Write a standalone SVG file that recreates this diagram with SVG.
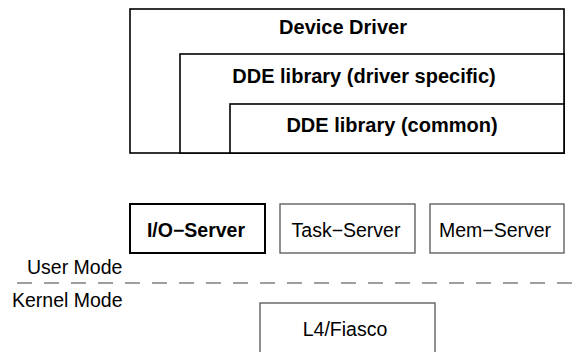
<svg xmlns="http://www.w3.org/2000/svg" width="580" height="352" viewBox="0 0 580 352">
  <style>
    .layer { fill: #ffffff; stroke: #000000; stroke-width: 1.6; }
    .srv { fill: #ffffff; stroke: #555555; stroke-width: 1.3; }
    .srv-main { fill: #ffffff; stroke: #000000; stroke-width: 2; }
    .bold { font-family: "Liberation Sans", Arial, sans-serif; font-weight: bold; font-size: 20px; fill: #000000; text-anchor: middle; }
    .txt { font-family: "Liberation Sans", Arial, sans-serif; font-size: 19.5px; fill: #000000; text-anchor: middle; }
    .lbl { font-family: "Liberation Sans", Arial, sans-serif; font-size: 19.5px; fill: #000000; }
    .sep { stroke: #808080; stroke-width: 1.5; stroke-dasharray: 15 12; fill: none; }
  </style>

  <!-- nested driver layers -->
  <g id="device-driver">
    <rect class="layer" x="130" y="9" width="434" height="144"/>
    <text class="bold" x="343" y="34">Device Driver</text>
  </g>
  <g id="dde-driver-specific">
    <rect class="layer" x="180" y="54" width="384" height="99"/>
    <text class="bold" x="364" y="83">DDE library (driver specific)</text>
  </g>
  <g id="dde-common">
    <rect class="layer" x="230" y="104" width="334" height="49"/>
    <text class="bold" x="392" y="132">DDE library (common)</text>
  </g>

  <!-- user-level servers -->
  <g id="io-server">
    <rect class="srv-main" x="130" y="204" width="135" height="49"/>
    <text class="bold" x="196" y="237" style="font-size:19.5px">I/O−Server</text>
  </g>
  <g id="task-server">
    <rect class="srv" x="280" y="204" width="135" height="49"/>
    <text class="txt" x="346" y="237">Task−Server</text>
  </g>
  <g id="mem-server">
    <rect class="srv" x="430" y="204" width="134" height="49"/>
    <text class="txt" x="495" y="237">Mem−Server</text>
  </g>

  <!-- user / kernel boundary -->
  <g id="connectors">
    <line class="sep" x1="17" y1="283" x2="580" y2="283"/>
  </g>
  <g id="mode-labels">
    <text class="lbl" x="27" y="274">User Mode</text>
    <text class="lbl" x="12" y="307">Kernel Mode</text>
  </g>

  <!-- microkernel -->
  <g id="l4-fiasco">
    <rect class="srv" x="260" y="303" width="175" height="60"/>
    <text class="txt" x="345" y="336">L4/Fiasco</text>
  </g>
</svg>
